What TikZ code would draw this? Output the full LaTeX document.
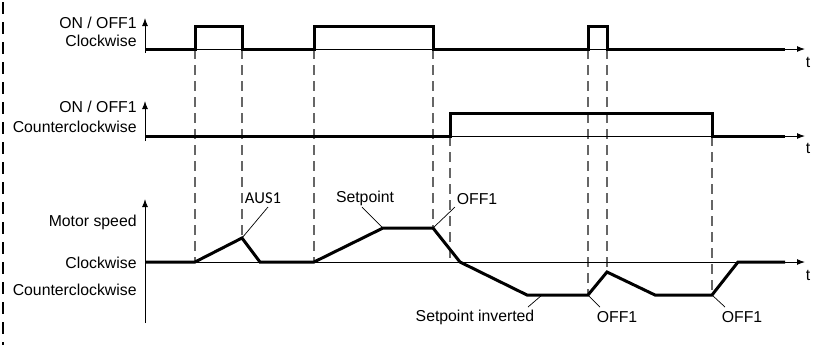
\documentclass[tikz,border=0pt]{standalone}
\usepackage{fontspec}
\setmainfont{Liberation Sans}
\newfontfamily\calfont{Carlito}
\usetikzlibrary{arrows.meta}
\begin{document}
\begin{tikzpicture}[x=0.5pt,y=-0.5pt,
 sig/.style={line width=1.5pt, line join=miter},
 ax/.style={line width=0.5pt},
 axarr/.style={line width=0.5pt,-{Latex[length=4pt,width=3pt]}},
 guide/.style={black!60, line width=0.6pt, dash pattern=on 5pt off 3pt},
 lbl/.style={font=\fontsize{7.9}{9}\selectfont, inner sep=0pt},
 lead/.style={line width=0.35pt}]
\useasboundingbox (0,0) rectangle (821,350);
\draw[line width=1pt, dash pattern=on 6pt off 4pt] (3,2) -- (3,345);

% guides
\draw[guide] (195,49) -- (195,262);
\draw[guide] (242,49) -- (242,238);
\draw[guide] (314,49) -- (314,262);
\draw[guide] (433,49) -- (433,228);
\draw[guide] (450,136) -- (450,262);
\draw[guide] (588,49) -- (588,295);
\draw[guide] (607,49) -- (607,272);
\draw[guide] (712,136) -- (712,295);

% plot 1
\draw[axarr] (145,53) -- (145,18);
\draw[axarr] (145,49) -- (805,49);
\draw[sig] (145,49) -- (195,49) -- (195,26) -- (242,26) -- (242,49) -- (314,49) -- (314,26) -- (433,26) -- (433,49) -- (588,49) -- (588,26) -- (607,26) -- (607,49) -- (785,49);
\node[lbl,anchor=east] (l1a) at (137,23) {ON / OFF1};
\node[lbl,anchor=east] (l1b) at (137,41) {Clockwise};
\node[lbl] (t1) at (808,62) {t};

% plot 2
\draw[axarr] (145,141) -- (145,101);
\draw[axarr] (145,136) -- (805,136);
\draw[sig] (145,136) -- (450,136) -- (450,113) -- (712,113) -- (712,136) -- (785,136);
\node[lbl,anchor=east] (l2a) at (137,107) {ON / OFF1};
\node[lbl,anchor=east] (l2b) at (137,127) {Counterclockwise};
\node[lbl] (t2) at (808,148) {t};

% plot 3
\draw[axarr] (145,323) -- (145,199);
\draw[axarr] (145,262) -- (805,262);
\draw[sig] (145,262) -- (195,262) -- (242,238) -- (260,262) -- (314,262) -- (383,228) -- (433,228) -- (460,262) -- (527,295) -- (588,295) -- (607,272) -- (655,295) -- (712,295) -- (738,262) -- (785,262);
\node[lbl,anchor=east] (l3a) at (137,222) {Motor speed};
\node[lbl,anchor=east] (l3b) at (137,263) {Clockwise};
\node[lbl,anchor=east] (l3c) at (137,290) {Counterclockwise};
\node[lbl] (t3) at (808,275) {t};

% annotations
\node[lbl,font=\calfont\fontsize{8.3}{9}\selectfont] (aus) at (263,198) {AUS1};
\coordinate (ausA) at (268,207); \coordinate (ausB) at (242,238);
\draw[lead] (ausA) -- (ausB);
\node[lbl] (sp) at (365,198) {Setpoint};
\coordinate (spA) at (362,207); \coordinate (spB) at (383,228);
\draw[lead] (spA) -- (spB);
\node[lbl] (off1) at (477,199) {OFF1};
\coordinate (o1A) at (455,207); \coordinate (o1B) at (433,228);
\draw[lead] (o1A) -- (o1B);
\node[lbl] (spi) at (475,317) {Setpoint inverted};
\coordinate (siA) at (528,307); \coordinate (siB) at (542,295);
\draw[lead] (siA) -- (siB);
\node[lbl] (off2) at (617,317) {OFF1};
\coordinate (o2A) at (600,307); \coordinate (o2B) at (588,295);
\draw[lead] (o2A) -- (o2B);
\node[lbl] (off3) at (742,317) {OFF1};
\coordinate (o3A) at (725,307); \coordinate (o3B) at (712,295);
\draw[lead] (o3A) -- (o3B);
\end{tikzpicture}
\end{document}
